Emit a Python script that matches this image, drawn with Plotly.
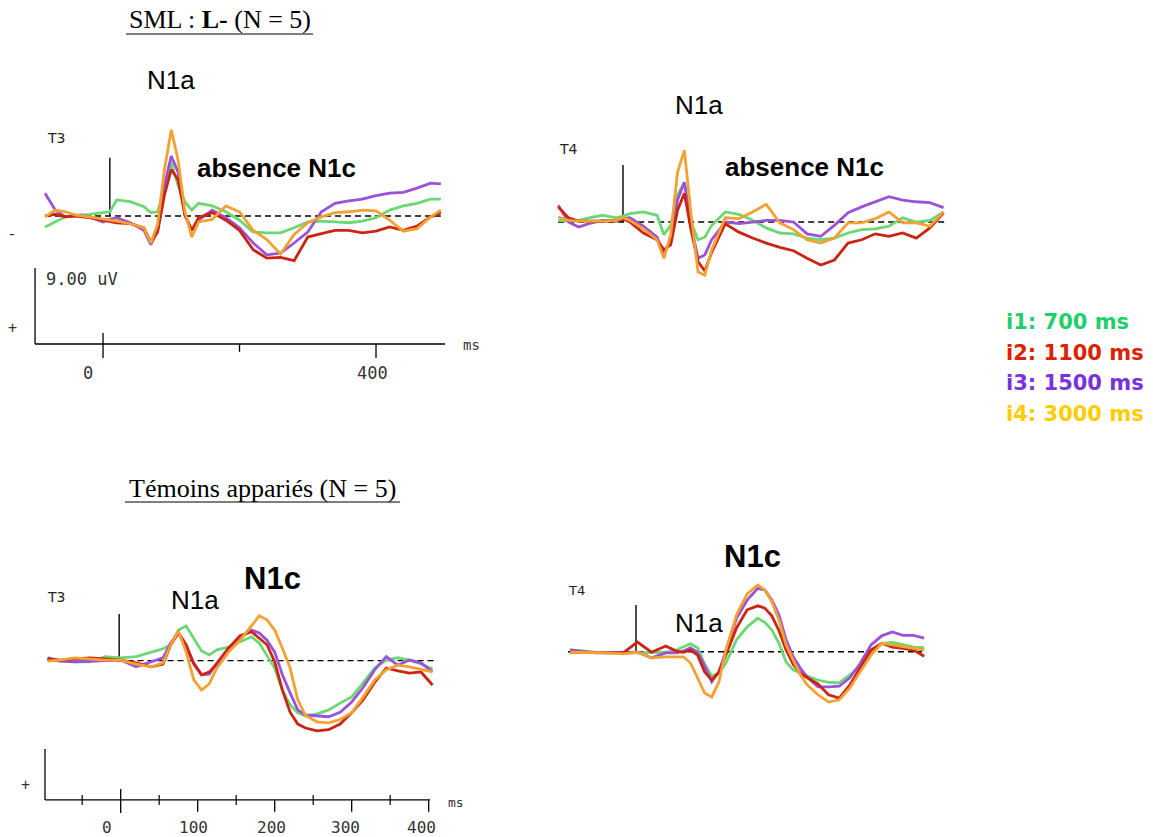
import plotly.graph_objects as go

W, H = 1153, 837

# ---------------- data (amplitudes in µV, negative plotted upward) ----------------
cond_labels = ["i1: 700 ms", "i2: 1100 ms", "i3: 1500 ms", "i4: 3000 ms"]
line_colors = ["#6cd873", "#cc2412", "#9b52d9", "#f2a132"]
legend_colors = ["#1fcf6b", "#dd2200", "#7733dd", "#ffcc00"]

# SML group, T3 electrode
t_sml_t3 = [-85, -70, -55, -40, -20, 0, 10, 20, 40, 60, 70, 80, 90, 100, 110, 120, 130, 140,
            160, 180, 200, 220, 240, 260, 280, 300, 320, 340, 360, 380, 400, 420, 440, 460, 480, 495]
sml_t3_i1 = [1.3, 0.7, 0.1, -0.1, -0.2, -0.4, -0.5, -1.9, -1.7, -1.1, -0.4, -0.5, -3.1, -6.3, -3.6, -1.7, -0.7, -1.5,
             -1.2, -0.5, 0.5, 1.9, 2.0, 2.0, 1.4, 0.7, 0.6, 0.7, 0.8, 0.6, 0.2, -0.7, -1.2, -1.5, -2.0, -2.0]
sml_t3_i2 = [0.0, -0.2, 0.1, 0.0, 0.2, 0.5, 0.7, 0.8, 0.9, 1.4, 3.1, 1.9, -2.5, -5.5, -4.3, -0.1, 1.7, 0.2,
             -0.4, 0.5, 1.7, 4.0, 5.0, 4.9, 5.3, 2.5, 2.1, 1.7, 1.7, 2.0, 1.8, 1.3, 1.7, 1.2, 0.1, -0.4]
sml_t3_i3 = [-2.7, -0.7, 0.1, -0.1, 0.1, 0.7, 0.4, 0.2, 0.8, 1.7, 3.4, 1.7, -3.7, -7.1, -5.2, -0.1, 1.7, 0.5,
             -0.7, 0.2, 1.4, 3.2, 4.6, 4.4, 3.2, 1.9, -0.5, -1.5, -1.8, -2.0, -2.4, -2.7, -2.8, -3.3, -3.9, -3.8]
sml_t3_i4 = [0.1, -0.7, -0.5, -0.1, 0.1, 0.4, 0.5, 0.6, 0.9, 1.4, 3.2, 1.0, -5.5, -10.2, -6.6, -0.5, 2.5, 0.7,
             0.4, -1.2, -0.5, 1.7, 2.8, 4.5, 2.2, 0.8, 0.1, -0.4, -0.5, -0.7, -0.6, 0.5, 1.8, 1.5, 0.1, -0.7]

# SML group, T4 electrode
t_sml_t4 = [-85, -70, -55, -40, -20, 0, 10, 20, 40, 60, 70, 80, 90, 100, 110, 120, 130, 140,
            160, 180, 200, 220, 240, 260, 280, 300, 320, 340, 360, 380, 400, 420, 440, 460, 480]
sml_t4_i1 = [-0.2, -0.1, -0.2, -0.5, -0.8, -0.5, -0.7, -1.0, -1.2, -0.8, 1.5, 0.4, -3.2, -4.7, 0.0, 2.1, 1.8, 0.4,
             -1.2, -0.9, -0.2, 0.7, 1.3, 1.4, 1.9, 2.1, 1.9, 1.3, 0.9, 0.8, 0.5, -0.5, 0.0, -0.2, -1.2]
sml_t4_i2 = [-1.8, -0.5, -0.1, -0.1, -0.1, -0.1, -0.4, 0.0, 1.3, 2.1, 3.3, 2.7, -1.4, -3.4, 1.0, 4.7, 5.8, 3.6,
             0.2, 1.2, 1.9, 2.5, 3.0, 3.4, 4.3, 5.1, 4.5, 2.5, 2.1, 1.4, 1.7, 1.3, 1.9, 0.7, -1.1]
sml_t4_i3 = [-2.0, 0.0, 0.6, 0.2, -0.2, -0.2, -0.4, -0.5, 0.5, 1.8, 3.9, 1.9, -2.6, -4.7, 0.4, 4.3, 3.9, 2.1,
             0.0, 0.2, 0.0, -0.2, -0.2, 0.0, 1.4, 1.7, 0.4, -1.1, -1.8, -2.4, -3.0, -2.6, -2.4, -2.3, -1.7]
sml_t4_i4 = [-0.6, -0.2, -0.1, -0.1, -0.1, -0.2, -0.5, -0.2, 0.8, 2.1, 4.3, 1.5, -5.9, -8.5, -0.8, 5.9, 6.3, 3.3,
             -0.5, -0.4, -1.2, -2.1, 0.1, 0.9, 2.1, 2.5, 1.9, 0.1, 0.1, -0.4, -1.2, 0.1, 0.1, 0.5, -1.2]

# Matched controls ("Témoins"), shared time grid
t_tem = [-95, -80, -60, -40, -20, 0, 20, 40, 55, 65, 75, 85, 95, 105, 115, 125, 140, 155, 170, 180,
         190, 200, 210, 220, 230, 240, 255, 270, 285, 300, 315, 330, 345, 360, 375, 390, 405]
tem_t3_i1 = [-0.5, -0.1, 0.2, 0.2, -0.7, -0.5, -0.7, -1.5, -2.1, -2.8, -5.4, -6.1, -4.0, -1.7, -1.0, -1.9, -2.4, -3.3,
             -4.2, -3.1, -1.0, 1.3, 5.2, 7.8, 9.2, 9.8, 9.4, 8.7, 7.5, 6.4, 3.9, 1.3, -0.1, -0.5, -0.1, 0.6, 1.5]
tem_t3_i2 = [-0.3, -0.1, -0.3, -0.5, -0.3, -0.1, 0.4, 1.1, 0.6, -2.8, -4.9, -2.8, 0.6, 2.5, 2.0, 0.6, -2.2, -4.4,
             -5.1, -4.0, -2.8, 0.2, 5.2, 9.1, 11.2, 11.9, 12.4, 12.2, 11.2, 9.2, 6.9, 3.8, 1.3, 1.8, 2.2, 2.0, 4.3]
tem_t3_i3 = [-0.5, 0.1, 0.2, 0.1, -0.1, -0.1, 1.1, 0.2, -0.5, -3.1, -4.9, -2.2, 0.4, 2.5, 2.4, 0.4, -2.2, -4.0,
             -5.4, -4.9, -3.6, -1.5, 2.5, 5.7, 8.7, 9.6, 9.8, 9.9, 9.1, 7.3, 4.7, 1.6, -0.7, 0.8, -0.1, 0.4, 2.0]
tem_t3_i4 = [0.1, -0.1, -0.5, -0.3, -0.1, -0.1, 0.6, 1.1, 0.4, -2.8, -5.2, -1.5, 3.4, 5.2, 4.1, 1.3, -1.5, -3.6,
             -6.3, -7.9, -7.2, -5.4, -2.2, 1.3, 6.9, 9.7, 10.8, 11.0, 10.4, 9.2, 6.4, 3.4, 1.6, 0.8, 1.1, 1.5, 2.0]

tem_t4_i1 = [-0.3, -0.1, 0.1, 0.2, 0.1, 0.2, 0.1, 0.1, -0.3, -0.8, -1.4, -0.7, 2.2, 4.3, 3.8, 2.0, -2.1, -4.4,
             -5.9, -5.2, -3.8, -1.5, 1.8, 3.2, 3.8, 4.3, 5.0, 5.4, 5.5, 4.1, 2.7, 0.1, -1.4, -1.7, -1.2, -0.8, -0.7]
tem_t4_i2 = [0.1, 0.1, 0.2, 0.2, 0.2, -1.7, 0.1, -1.0, -0.1, 0.1, -0.3, 0.6, 3.6, 5.0, 3.6, 0.6, -4.2, -7.4,
             -8.1, -7.7, -6.3, -3.7, -0.3, 2.2, 3.8, 4.6, 5.7, 7.6, 8.2, 5.9, 2.9, -0.3, -1.5, -0.8, -0.6, -0.3, 0.8]
tem_t4_i3 = [-0.3, -0.1, 0.2, 0.2, 0.1, 0.1, 1.1, 0.2, 0.2, -0.1, -0.7, 0.1, 2.5, 5.3, 3.6, -0.3, -5.9, -9.1,
             -11.2, -10.9, -9.1, -6.5, -2.1, 0.9, 2.9, 4.5, 6.2, 6.2, 6.1, 4.6, 2.0, -1.2, -2.8, -3.5, -2.9, -2.9, -2.4]
tem_t4_i4 = [0.1, 0.1, 0.2, 0.2, 0.4, 0.1, 1.1, 0.9, 0.9, 0.9, 2.0, 4.6, 7.3, 8.0, 5.4, -0.3, -6.5, -10.2,
             -11.8, -10.9, -8.8, -5.6, -1.2, 1.5, 4.1, 5.9, 7.6, 8.9, 8.5, 6.4, 3.6, 0.6, -1.5, -1.2, -0.8, -0.5, -0.3]

tick_top = [0, 200, 400]
tick_bot_major = [0, 100, 200, 300, 400]
tick_bot_minor = [-50, 50, 150, 250, 350]
tick_bot_labels = ["0", "100", "200", "300", "400"]

# ---------------- figure ----------------
fig = go.Figure()

panels = [
    ("x", "y", t_sml_t3, [sml_t3_i1, sml_t3_i2, sml_t3_i3, sml_t3_i4]),
    ("x2", "y2", t_sml_t4, [sml_t4_i1, sml_t4_i2, sml_t4_i3, sml_t4_i4]),
    ("x3", "y3", t_tem, [tem_t3_i1, tem_t3_i2, tem_t3_i3, tem_t3_i4]),
    ("x4", "y4", t_tem, [tem_t4_i1, tem_t4_i2, tem_t4_i3, tem_t4_i4]),
]
draw_order = [0, 2, 1, 3]  # green, purple, red, orange on top
for xa, ya, tt, series in panels:
    for k in draw_order:
        fig.add_trace(go.Scatter(
            x=tt, y=series[k], mode="lines", xaxis=xa, yaxis=ya,
            line=dict(color=line_colors[k], width=2.8), name=cond_labels[k],
            showlegend=False, hoverinfo="skip"))


def xd(a, b):
    return [a / W, b / W]


def yd(top, bottom):
    return [1 - bottom / H, 1 - top / H]


ax_common = dict(visible=False, showgrid=False, zeroline=False)
fig.update_layout(
    width=W, height=H, margin=dict(l=0, r=0, t=0, b=0),
    paper_bgcolor="white", plot_bgcolor="white", showlegend=False,
    xaxis=dict(domain=xd(30, 450), range=[-107.0, 508.4], anchor="y", **ax_common),
    yaxis=dict(domain=yd(110, 370), range=[18.25, -12.56], anchor="x", **ax_common),
    xaxis2=dict(domain=xd(550, 955), range=[-97.0, 496.8], anchor="y2", **ax_common),
    yaxis2=dict(domain=yd(120, 300), range=[9.24, -12.09], anchor="x2", **ax_common),
    xaxis3=dict(domain=xd(40, 440), range=[-104.8, 414.7], anchor="y3", **ax_common),
    yaxis3=dict(domain=yd(570, 830), range=[29.9, -16.0], anchor="x3", **ax_common),
    xaxis4=dict(domain=xd(560, 935), range=[-109.3, 420.3], anchor="y4", **ax_common),
    yaxis4=dict(domain=yd(560, 740), range=[15.6, -16.2], anchor="x4", **ax_common),
)

shapes = []


def seg(xref, yref, x0, y0, x1, y1, width=1.4, dash=None, color="black"):
    ln = dict(color=color, width=width)
    if dash:
        ln["dash"] = dash
    shapes.append(dict(type="line", xref=xref, yref=yref, x0=x0, y0=y0, x1=x1, y1=y1,
                       line=ln, layer="below"))


dash = "6px,4px"
# baselines
seg("x", "y", -85, 0, 495, 0, 1.4, dash)
seg("x2", "y2", -85, 0, 485, 0, 1.4, dash)
seg("x3", "y3", -95, 0, 410, 0, 1.4, dash)
seg("x4", "y4", -98, 0, 402, 0, 1.4, dash)
# stimulus markers
seg("x", "y", 10, -6.9, 10, 0, 1.4)
seg("x2", "y2", 10, -6.75, 10, 0, 1.4)
seg("x3", "y3", -2, -8.24, -2, 0, 1.4)
seg("x4", "y4", -2, -8.24, -2, 0, 1.4)
# scale bars, top-left
seg("x", "y", -99.6, 15.17, 501.1, 15.17, 1.3)
seg("x", "y", -99.6, 6.16, -99.6, 15.17, 1.3)
for tv in tick_top:
    y0 = 13.86 if tv == 0 else 15.17
    y1 = 16.1 if tv == 200 else 16.83
    seg("x", "y", tv, y0, tv, y1, 1.3)
# scale bars, bottom-left
seg("x3", "y3", -98.3, 24.59, 401.7, 24.59, 1.3)
seg("x3", "y3", -98.3, 15.58, -98.3, 24.59, 1.3)
for tv in tick_bot_major:
    y0 = 22.65 if tv == 0 else 24.59
    y1 = 26.88 if tv == 0 else 26.7
    seg("x3", "y3", tv, y0, tv, y1, 1.3)
for tv in tick_bot_minor:
    seg("x3", "y3", tv, 23.7, tv, 25.5, 1.2)

# underlines for titles
shapes.append(dict(type="line", xref="paper", yref="paper", x0=126 / W, x1=313 / W,
                   y0=1 - 34 / H, y1=1 - 34 / H, line=dict(color="black", width=1.2)))
shapes.append(dict(type="line", xref="paper", yref="paper", x0=125 / W, x1=400 / W,
                   y0=1 - 502 / H, y1=1 - 502 / H, line=dict(color="black", width=1.2)))

annotations = []
SANS = "Liberation Sans, Arial, sans-serif"
SERIF = "Liberation Serif, Times New Roman, serif"
MONO = "DejaVu Sans Mono, monospace"
SMALL = "DejaVu Sans, sans-serif"


def ann(text, x, y, size, color="black", family=SANS, xanchor="center", yanchor="middle"):
    annotations.append(dict(text=text, x=x / W, y=1 - y / H, xref="paper", yref="paper",
                            showarrow=False, font=dict(size=size, color=color, family=family),
                            xanchor=xanchor, yanchor=yanchor))


ann("SML : <b>L-</b> (N = 5)", 220, 20, 26, family=SERIF)
ann("Témoins appariés (N = 5)", 262, 488, 26, family=SERIF)

ann("N1a", 171, 80, 26)
ann("<b>absence N1c</b>", 276, 168, 26)
ann("T3", 56, 138, 14, color="#222", family=SMALL)
ann("N1a", 699, 105, 26)
ann("<b>absence N1c</b>", 804, 167, 26)
ann("T4", 568, 149, 14, color="#222", family=SMALL)
ann("T3", 56, 597, 14, color="#222", family=SMALL)
ann("N1a", 195, 600, 26)
ann("<b>N1c</b>", 272, 578, 31)
ann("T4", 576, 590, 13, color="#222", family=SMALL)
ann("N1a", 699, 623, 26)
ann("<b>N1c</b>", 752, 556, 31)

ann("9.00 uV", 44, 279, 17, color="#333", family=MONO, xanchor="left")
ann("-", 12, 234, 16, color="#333", family=MONO)
ann("+", 12, 328, 15, color="#333", family=MONO)
ann("0", 88, 373, 17, color="#333", family=MONO)
ann("400", 373, 373, 17, color="#333", family=MONO)
ann("ms", 471, 345, 14, color="#333", family=MONO)

ann("+", 25, 785, 15, color="#333", family=MONO)
for lab, xp in zip(tick_bot_labels, [107, 194, 271, 345, 421]):
    ann(lab, xp, 827, 16, color="#333", family=MONO)
ann("ms", 456, 802, 13, color="#333", family=MONO)

for k, yp in enumerate([322, 353, 383, 414]):
    ann("<b>" + cond_labels[k] + "</b>", 1004, yp, 21, color=legend_colors[k],
        family="DejaVu Sans, sans-serif", xanchor="left")

fig.update_layout(shapes=shapes, annotations=annotations)
fig.write_html(
    "out.html",
    config={"displayModeBar": False},
    post_script="document.body.style.margin='0';document.body.style.overflow='hidden';",
)
